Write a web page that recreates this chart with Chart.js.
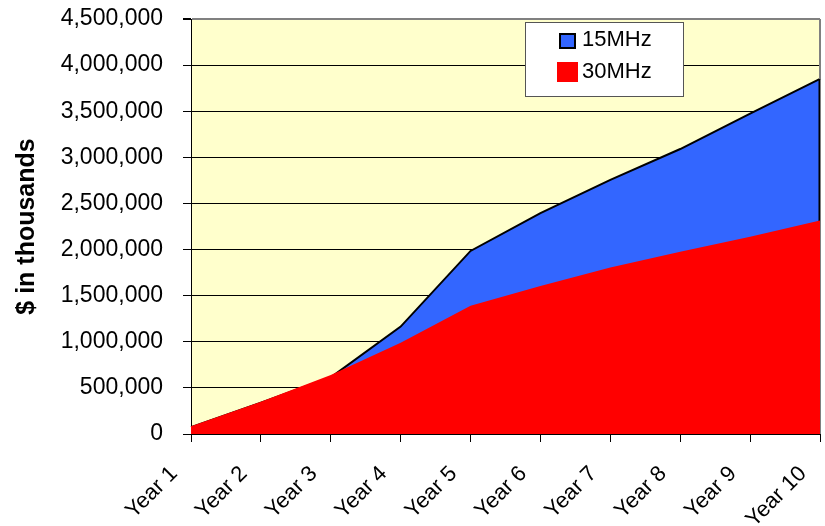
<!DOCTYPE html>
<html>
<head>
<meta charset="utf-8">
<script src="https://cdn.jsdelivr.net/npm/chart.js@4/dist/chart.umd.min.js"></script>
<style>
  html, body { margin: 0; padding: 0; background: #ffffff; }
  #wrap { width: 825px; height: 526px; position: relative; }
</style>
</head>
<body>
<div id="wrap"><canvas id="c" width="825" height="526"></canvas></div>
<script>
// ---- data ----
const categories = ['Year 1', 'Year 2', 'Year 3', 'Year 4', 'Year 5', 'Year 6', 'Year 7', 'Year 8', 'Year 9', 'Year 10'];
const seriesNames = ['15MHz', '30MHz'];
const values15MHz = [75000, 340000, 615000, 1165000, 1985000, 2395000, 2755000, 3090000, 3475000, 3850000];
const values30MHz = [85000, 350000, 640000, 990000, 1390000, 1605000, 1805000, 1975000, 2140000, 2315000];
const yTicks = { min: 0, max: 4500000, step: 500000 };
const yTitle = '$ in thousands';

const FONT = '"Liberation Sans", Arial, Helvetica, sans-serif';
const BLUE = '#3366FF';
const RED = '#FF0000';

const bgPlugin = {
  id: 'plotBg',
  beforeDraw(chart) {
    const { ctx, chartArea: a } = chart;
    ctx.save();
    ctx.fillStyle = '#FFFFCC';
    ctx.fillRect(a.left, a.top, a.right - a.left, a.bottom - a.top);
    ctx.restore();
  }
};

const edgePlugin = {
  id: 'areaEdge',
  afterDatasetDraw(chart, args) {
    if (args.index !== 0) return;
    const x = chart.scales.x, y = chart.scales.y;
    const data = chart.data.datasets[0].data;
    const last = data.length - 1;
    const px = x.getPixelForValue(last);
    const ctx = chart.ctx;
    ctx.save();
    ctx.strokeStyle = '#000';
    ctx.lineWidth = 2;
    ctx.beginPath();
    ctx.moveTo(px - 0.5, y.getPixelForValue(data[last]));
    ctx.lineTo(px - 0.5, y.getPixelForValue(0));
    ctx.stroke();
    ctx.restore();
  }
};

const frameLegendPlugin = {
  id: 'frameLegend',
  afterDraw(chart) {
    const { ctx, chartArea: a } = chart;
    ctx.save();
    // right border of plot
    ctx.strokeStyle = '#808080';
    ctx.lineWidth = 2;
    ctx.beginPath();
    ctx.moveTo(a.right, a.top);
    ctx.lineTo(a.right, chart.scales.y.getPixelForValue(chart.data.datasets[0].data[chart.data.datasets[0].data.length - 1]));
    ctx.stroke();

    // legend box
    const bx = a.left + 334.5, by = a.top + 3.5, bw = 158, bh = 74;
    ctx.fillStyle = '#ffffff';
    ctx.fillRect(bx, by, bw, bh);
    ctx.strokeStyle = '#555555';
    ctx.lineWidth = 1;
    ctx.strokeRect(bx, by, bw, bh);

    const ds = chart.data.datasets;
    ctx.font = '22px ' + FONT;
    ctx.textBaseline = 'middle';
    ctx.textAlign = 'left';
    // entry 1
    ctx.fillStyle = ds[0].backgroundColor;
    ctx.fillRect(a.left + 369, a.top + 15, 15, 14);
    ctx.strokeStyle = '#000';
    ctx.lineWidth = 2;
    ctx.strokeRect(a.left + 369, a.top + 15, 15, 14);
    ctx.fillStyle = '#000';
    ctx.fillText(ds[0].label, a.left + 391, a.top + 21);
    // entry 2
    ctx.fillStyle = ds[1].backgroundColor;
    ctx.fillRect(a.left + 366, a.top + 43, 21, 20);
    ctx.fillStyle = '#000';
    ctx.fillText(ds[1].label, a.left + 391, a.top + 53);
    ctx.restore();
  }
};

new Chart(document.getElementById('c'), {
  type: 'line',
  data: {
    labels: categories,
    datasets: [
      {
        label: seriesNames[0],
        data: values15MHz,
        backgroundColor: BLUE,
        borderColor: '#000000',
        borderWidth: 2,
        fill: 'origin',
        pointRadius: 0,
        tension: 0,
        order: 1
      },
      {
        label: seriesNames[1],
        data: values30MHz,
        backgroundColor: RED,
        borderColor: RED,
        borderWidth: 0,
        fill: 'origin',
        pointRadius: 0,
        tension: 0,
        order: 0
      }
    ]
  },
  options: {
    responsive: false,
    animation: false,
    devicePixelRatio: 1,
    layout: { padding: { top: 19, right: 5, left: 0, bottom: 0 } },
    plugins: {
      legend: { display: false },
      tooltip: { enabled: false }
    },
    scales: {
      x: {
        offset: false,
        border: { display: true, color: '#000', width: 1 },
        grid: {
          display: true,
          drawOnChartArea: false,
          tickLength: 8,
          tickColor: '#000'
        },
        ticks: {
          color: '#000',
          font: { family: FONT, size: 22 },
          maxRotation: 45,
          minRotation: 45,
          padding: 19,
          labelOffset: -17,
          autoSkip: false
        },
        afterFit(scale) {
          scale.height = 92;
          scale.paddingLeft = 0; scale.paddingRight = 0;
        }
      },
      y: {
        min: yTicks.min,
        max: yTicks.max,
        border: { display: true, color: '#000', width: 1 },
        grid: {
          color: (c) => (c.tick && c.tick.value === yTicks.max) ? '#808080' : '#000',
          lineWidth: (c) => (c.tick && c.tick.value === yTicks.max) ? 2 : 1,
          tickLength: 8,
          tickColor: '#000'
        },
        ticks: {
          stepSize: yTicks.step,
          color: '#000',
          font: { family: FONT, size: 23 },
          padding: 20,
          callback: (v) => Number(v).toLocaleString('en-US')
        },
        title: {
          display: true,
          text: yTitle,
          color: '#000',
          font: { family: FONT, size: 25, weight: 'bold' },
          padding: { top: 12, bottom: 0 }
        },
        afterFit(scale) {
          scale.width = 191;
          scale.paddingTop = 0; scale.paddingBottom = 0;
        }
      }
    }
  },
  plugins: [bgPlugin, edgePlugin, frameLegendPlugin]
});
</script>
</body>
</html>
